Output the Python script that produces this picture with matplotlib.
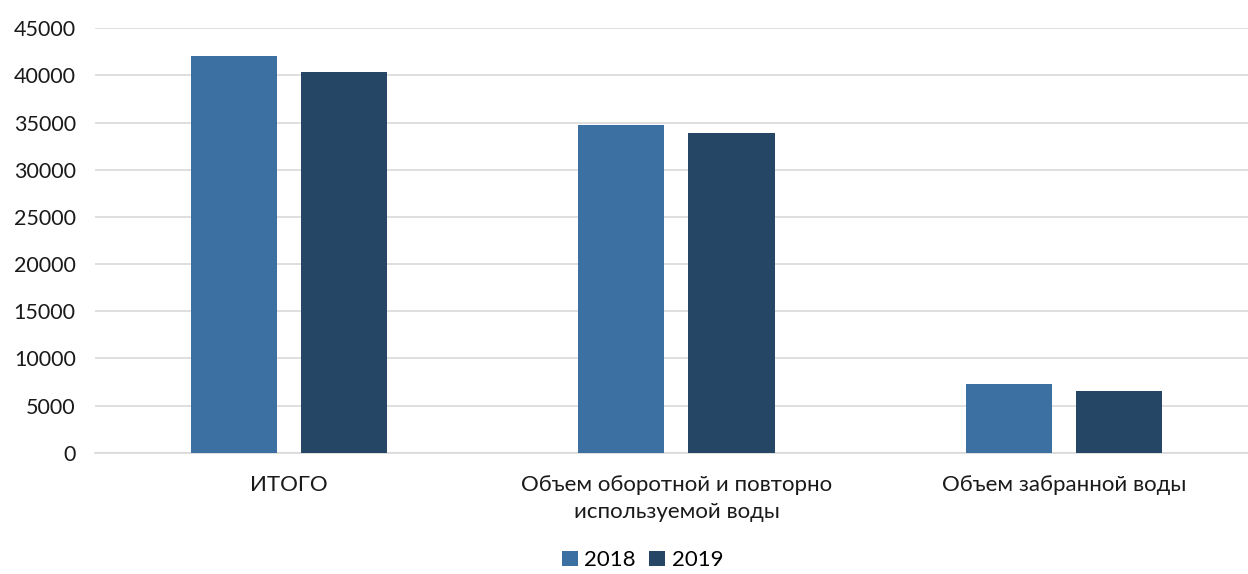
import numpy as np
import matplotlib.pyplot as plt

categories = ["ИТОГО", "Объем оборотной и повторно\nиспользуемой воды", "Объем забранной воды"]
years = ["2018", "2019"]
values_2018 = [42050, 34750, 7350]
values_2019 = [40350, 33850, 6550]
colors = ["#3C70A3", "#254664"]

plt.rcParams["font.family"] = ["Lato", "DejaVu Sans"]
fs = 16

fig = plt.figure(figsize=(12.48, 5.74), dpi=100)
ax = fig.add_axes([0.0763, 0.211, 0.9315, 0.740])

x = np.arange(len(categories))
w = 0.222
off = 0.142
ax.bar(x - off, values_2018, w, color=colors[0], label=years[0], zorder=3)
ax.bar(x + off, values_2019, w, color=colors[1], label=years[1], zorder=3)

ax.set_xlim(-0.5, 2.5)
ax.set_ylim(0, 45000)
ax.set_yticks(range(0, 45001, 5000))
ax.set_xticks(x)
ax.set_xticklabels(categories, fontsize=fs, color="#1a1a1a", linespacing=1.45)
ax.tick_params(axis="y", labelsize=15.5, colors="#1a1a1a", length=0, pad=14)
ax.tick_params(axis="x", length=0, pad=16)
ax.grid(axis="y", color="#d9d9d9", linewidth=1.2, zorder=0)
for s in ["top", "right", "left"]:
    ax.spines[s].set_visible(False)
ax.spines["bottom"].set_color("#d9d9d9")
ax.spines["bottom"].set_linewidth(1.2)

fig.legend(loc="lower center", bbox_to_anchor=(0.515, -0.028), ncol=2, frameon=False,
           fontsize=fs, handlelength=0.7, handleheight=0.7, handletextpad=0.3,
           columnspacing=0.6)

fig.savefig("out.png", dpi=100)
